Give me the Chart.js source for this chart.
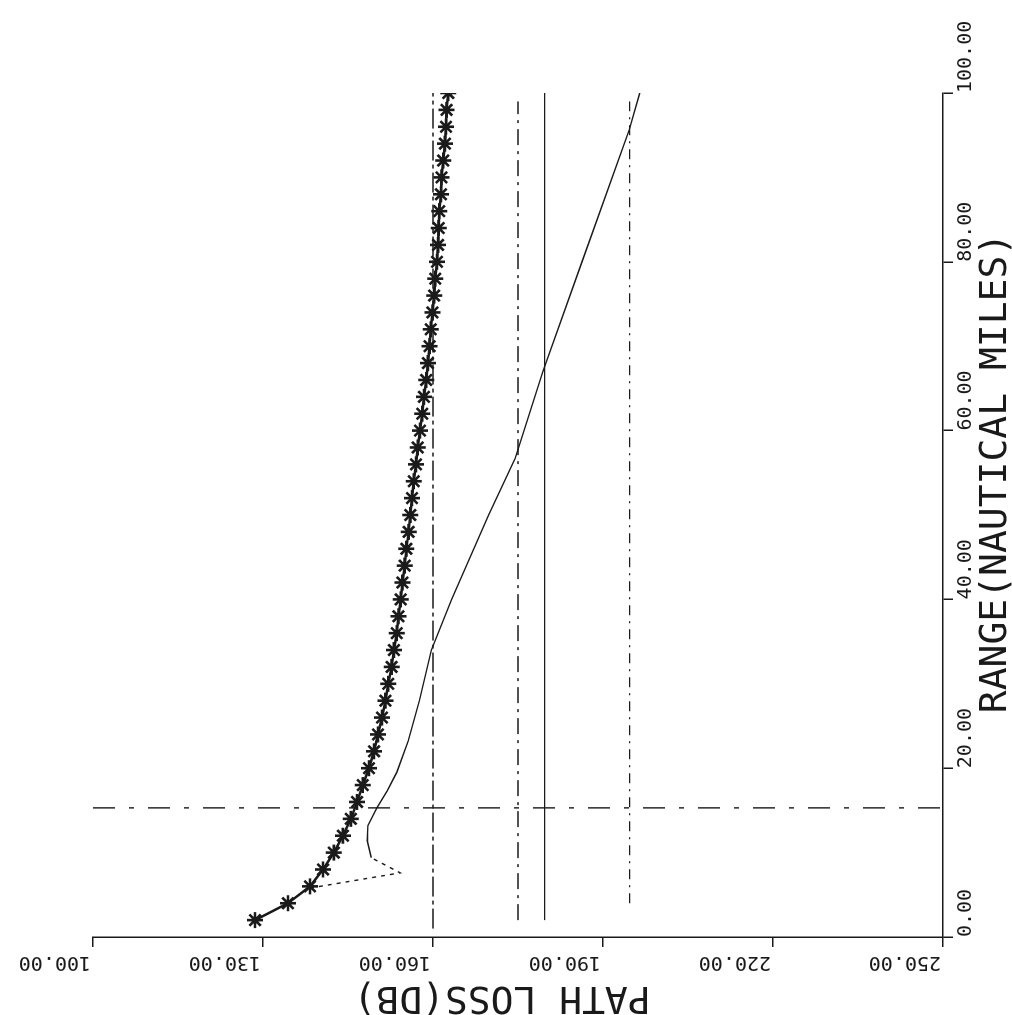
<!DOCTYPE html>
<html lang="en">
<head>
  <meta charset="UTF-8" />
  <title>Path loss vs range</title>
  <style>
    body {
      margin: 0;
      background: #ffffff;
      overflow: hidden;
    }
    /* the plot is drawn upright, then turned a quarter turn to the left */
    #giro {
      position: absolute;
      left: 0;
      top: 0;
      width: 1015px;
      height: 1012px;
      transform-origin: 0 0;
      transform: translate(0, 1015px) rotate(-90deg);
    }
  </style>
</head>
<body>
  <div id="giro">
    <canvas id="grafica" width="1015" height="1012"></canvas>
  </div>
  <script src="https://cdn.jsdelivr.net/npm/chart.js"></script>
  <script>
    // axis ticks
    const rangeTicks = [0, 20, 40, 60, 80, 100];
    const rangeLabels = ['0.00', '20.00', '40.00', '60.00', '80.00', '100.00'];
    const lossTicks = [100, 130, 160, 190, 220, 250];
    const lossLabels = ['100.00', '130.00', '160.00', '190.00', '220.00', '250.00'];
    const rangeTitle = 'RANGE(NAUTICAL MILES)';
    const lossTitle = 'PATH LOSS(DB)';

    // starred curve (range nmi, path loss dB)
    const starRange = [2, 4, 6, 8, 10, 12, 14, 16, 18, 20, 22, 24, 26, 28, 30, 32, 34, 36, 38, 40,
      42, 44, 46, 48, 50, 52, 54, 56, 58, 60, 62, 64, 66, 68, 70, 72, 74, 76, 78, 80,
      82, 84, 86, 88, 90, 92, 94, 96, 98, 100];
    const starLoss = [128.6, 134.4, 138.3, 140.6, 142.5, 144.1, 145.5, 146.6, 147.6, 148.7,
      149.6, 150.3, 151.0, 151.6, 152.1, 152.7, 153.1, 153.6, 153.9, 154.3,
      154.6, 155.0, 155.3, 155.7, 156.0, 156.3, 156.6, 157.0, 157.3, 157.7,
      158.1, 158.4, 158.8, 159.1, 159.4, 159.6, 159.9, 160.2, 160.4, 160.7,
      160.9, 161.0, 161.1, 161.4, 161.5, 161.8, 162.1, 162.3, 162.4, 162.7];

    // thin curve
    const curveRange = [5.8, 7.6, 9.4, 11.4, 13.2, 15.3, 17.3, 19.5, 23.2, 28, 34, 40, 50, 56.7, 67, 80, 95.6, 100];
    const curveLoss = [138.3, 154.2, 149.1, 148.4, 148.5, 150.1, 151.9, 153.6, 155.6, 157.6, 159.7, 163.3, 169.8, 174.5, 179.4, 186.3, 194.6, 196.5];

    // constant loss levels
    const refLoss = [160, 175, 179.7, 194.7];
    const refStart = [1, 2, 2, 4];
    const refEnd = [100, 99, 100, 99];

    // dashed range marker
    const horizonRange = 15.3;
    const horizonLoss = [100, 250];

    const fuente = '"DejaVu Sans Mono", "Liberation Mono", monospace';
    const tinta = '#1a1a1a';

    const refDash = [[20, 4, 4, 4], [16, 6, 3, 6], [], [10, 6, 2, 6]];
    const refSets = refLoss.map((v, i) => ({
      data: [{ x: refStart[i], y: v }, { x: refEnd[i], y: v }],
      borderColor: tinta,
      borderWidth: 1.4,
      borderDash: refDash[i],
      pointRadius: 0,
      showLine: true
    }));

    // loss tick labels run along the axis and the titles sit off-centre,
    // so they are written here
    const rotulos = {
      id: 'rotulos',
      afterDraw(chart) {
        const sc = chart.scales.y;
        const ctx = chart.ctx;
        ctx.save();
        ctx.fillStyle = tinta;
        ctx.textBaseline = 'middle';

        ctx.font = '20px ' + fuente;
        ctx.textAlign = 'left';
        lossTicks.forEach((v, i) => {
          ctx.save();
          ctx.translate(53, sc.getPixelForValue(v) - 2);
          ctx.rotate(-Math.PI / 2);
          ctx.fillText(lossLabels[i], 0, 0);
          ctx.restore();
        });

        ctx.font = '38px ' + fuente;
        ctx.textAlign = 'center';
        ctx.fillText(rangeTitle, 542, 996);

        ctx.save();
        ctx.translate(18, 502);
        ctx.rotate(-Math.PI / 2);
        ctx.fillText(lossTitle, 0, 0);
        ctx.restore();

        ctx.restore();
      }
    };

    new Chart(document.getElementById('grafica'), {
      type: 'scatter',
      data: {
        datasets: [
          {
            data: starRange.map((r, i) => ({ x: r, y: starLoss[i] })),
            borderColor: tinta,
            backgroundColor: tinta,
            borderWidth: 2.5,
            pointStyle: 'star',
            pointRadius: 8,
            pointBorderWidth: 2.6,
            showLine: true
          },
          {
            data: curveRange.map((r, i) => ({ x: r, y: curveLoss[i] })),
            borderColor: tinta,
            borderWidth: 1.4,
            pointRadius: 0,
            showLine: true,
            segment: {
              borderDash: c => c.p0DataIndex < 2 ? [4, 5] : undefined
            }
          },
          ...refSets,
          {
            data: horizonLoss.map(v => ({ x: horizonRange, y: v })),
            borderColor: tinta,
            borderWidth: 1.4,
            borderDash: [22, 14, 5, 14],
            pointRadius: 0,
            showLine: true
          }
        ]
      },
      options: {
        responsive: false,
        animation: false,
        devicePixelRatio: 1,
        layout: { padding: { top: 93, right: 93, bottom: 0, left: 0 } },
        plugins: {
          legend: { display: false },
          tooltip: { enabled: false }
        },
        scales: {
          x: {
            type: 'linear',
            position: 'bottom',
            min: 0,
            max: 100,
            afterBuildTicks: s => { s.ticks = rangeTicks.map(v => ({ value: v })); },
            afterFit: s => { s.height = 69; },
            grid: { drawOnChartArea: false, color: tinta, lineWidth: 1.5, tickLength: 10 },
            border: { color: tinta, width: 1.5 },
            ticks: {
              align: 'start',
              padding: 1,
              color: tinta,
              font: { family: fuente, size: 20 },
              callback: v => rangeLabels[rangeTicks.indexOf(v)]
            }
          },
          y: {
            type: 'linear',
            position: 'left',
            reverse: true,
            min: 100,
            max: 250,
            afterBuildTicks: s => { s.ticks = lossTicks.map(v => ({ value: v })); },
            afterFit: s => { s.width = 78; },
            grid: { drawOnChartArea: false, color: tinta, lineWidth: 1.5, tickLength: 10 },
            border: { color: tinta, width: 1.5, dash: [30, 6, 4, 6] },
            ticks: { display: false }
          }
        }
      },
      plugins: [rotulos]
    });
  </script>
</body>
</html>
